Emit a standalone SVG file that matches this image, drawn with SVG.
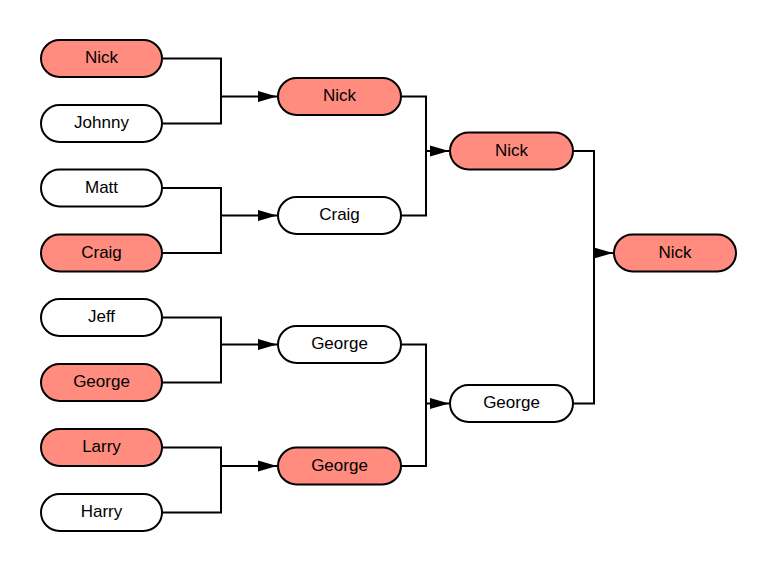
<svg xmlns="http://www.w3.org/2000/svg" width="776" height="571" viewBox="0 0 776 571">
  <style>
    .pill { stroke: #000; stroke-width: 2; }
    .win { fill: #ff8c7f; }
    .lose { fill: #ffffff; }
    .lbl { font-family: "Liberation Sans", Arial, sans-serif; font-size: 17px; fill: #000; text-anchor: middle; dominant-baseline: central; }
    .wire { fill: none; stroke: #000; stroke-width: 2; }
  </style>
  <defs>
    <marker id="arrow" markerWidth="20" markerHeight="12" refX="19" refY="6" orient="auto" markerUnits="userSpaceOnUse">
      <path d="M0,0.5 L19,6 L0,11.5 Z" fill="#000"/>
    </marker>
  </defs>
  <rect width="776" height="571" fill="#fff"/>

  <!-- bracket lines -->
  <g id="connectors">
    <!-- round 1 -->
    <path class="wire" d="M162,58.5 H221 V123.5 H162"/>
    <path class="wire" d="M221,96.5 H277" marker-end="url(#arrow)"/>
    <path class="wire" d="M162,188 H221 V253 H162"/>
    <path class="wire" d="M221,215.5 H277" marker-end="url(#arrow)"/>
    <path class="wire" d="M162,317.5 H221 V382.5 H162"/>
    <path class="wire" d="M221,344.5 H277" marker-end="url(#arrow)"/>
    <path class="wire" d="M162,447.5 H221 V512.5 H162"/>
    <path class="wire" d="M221,466 H277" marker-end="url(#arrow)"/>
    <!-- round 2 -->
    <path class="wire" d="M401,96.5 H426 V215.5 H401"/>
    <path class="wire" d="M426,151 H449" marker-end="url(#arrow)"/>
    <path class="wire" d="M401,344.5 H426 V466 H401"/>
    <path class="wire" d="M426,403.5 H449" marker-end="url(#arrow)"/>
    <!-- final -->
    <path class="wire" d="M573,151 H594 V403.5 H573"/>
    <path class="wire" d="M594,253 H613" marker-end="url(#arrow)"/>
  </g>

  <!-- round 1 -->
  <g id="r1-nick"><rect class="pill win" x="41" y="40" width="121" height="37" rx="18.5"/><text class="lbl" x="101.5" y="57.5">Nick</text></g>
  <g id="r1-johnny"><rect class="pill lose" x="41" y="105" width="121" height="37" rx="18.5"/><text class="lbl" x="101.5" y="122.5">Johnny</text></g>
  <g id="r1-matt"><rect class="pill lose" x="41" y="169.5" width="121" height="37" rx="18.5"/><text class="lbl" x="101.5" y="187">Matt</text></g>
  <g id="r1-craig"><rect class="pill win" x="41" y="234.5" width="121" height="37" rx="18.5"/><text class="lbl" x="101.5" y="252">Craig</text></g>
  <g id="r1-jeff"><rect class="pill lose" x="41" y="299" width="121" height="37" rx="18.5"/><text class="lbl" x="101.5" y="316.5">Jeff</text></g>
  <g id="r1-george"><rect class="pill win" x="41" y="364" width="121" height="37" rx="18.5"/><text class="lbl" x="101.5" y="381.5">George</text></g>
  <g id="r1-larry"><rect class="pill win" x="41" y="429" width="121" height="37" rx="18.5"/><text class="lbl" x="101.5" y="446.5">Larry</text></g>
  <g id="r1-harry"><rect class="pill lose" x="41" y="494" width="121" height="37" rx="18.5"/><text class="lbl" x="101.5" y="511.5">Harry</text></g>

  <!-- round 2 -->
  <g id="r2-nick"><rect class="pill win" x="278" y="78" width="123" height="37" rx="18.5"/><text class="lbl" x="339.5" y="95.5">Nick</text></g>
  <g id="r2-craig"><rect class="pill lose" x="278" y="197" width="123" height="37" rx="18.5"/><text class="lbl" x="339.5" y="214.5">Craig</text></g>
  <g id="r2-george-a"><rect class="pill lose" x="278" y="326" width="123" height="37" rx="18.5"/><text class="lbl" x="339.5" y="343.5">George</text></g>
  <g id="r2-george-b"><rect class="pill win" x="278" y="447.5" width="123" height="37" rx="18.5"/><text class="lbl" x="339.5" y="465">George</text></g>

  <!-- round 3 -->
  <g id="r3-nick"><rect class="pill win" x="450" y="132.5" width="123" height="37" rx="18.5"/><text class="lbl" x="511.5" y="150">Nick</text></g>
  <g id="r3-george"><rect class="pill lose" x="450" y="385" width="123" height="37" rx="18.5"/><text class="lbl" x="511.5" y="402.5">George</text></g>

  <!-- champion -->
  <g id="champion"><rect class="pill win" x="614" y="234.5" width="122" height="37" rx="18.5"/><text class="lbl" x="675" y="252">Nick</text></g>
</svg>
